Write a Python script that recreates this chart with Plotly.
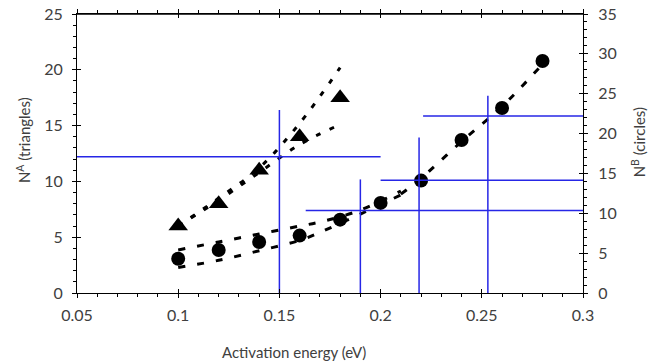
import plotly.graph_objects as go

# ---- data ----
tri_x = [0.10, 0.12, 0.14, 0.16, 0.18]
tri_y = [6.0, 8.0, 11.0, 14.0, 17.5]

circ_x = [0.10, 0.12, 0.14, 0.16, 0.18, 0.20, 0.22, 0.24, 0.26, 0.28]
circ_y = [4.3, 5.4, 6.4, 7.2, 9.2, 11.3, 14.1, 19.2, 23.2, 29.1]

tri_up_x = [0.10, 0.12, 0.14, 0.16, 0.18]
tri_up_y = [6.0, 8.5, 11.2, 15.2, 20.2]
tri_lo_x = [0.10, 0.12, 0.14, 0.16, 0.18]
tri_lo_y = [6.0, 8.3, 10.8, 13.3, 15.1]

circ_up_x = [0.10, 0.12, 0.14, 0.16, 0.17, 0.19, 0.21]
circ_up_y = [5.4, 6.4, 7.4, 8.4, 8.9, 10.4, 12.8]
circ_lo_x = [0.10, 0.12, 0.14, 0.16, 0.17, 0.19, 0.21]
circ_lo_y = [3.2, 4.1, 5.3, 6.6, 7.6, 9.9, 12.3]

circ_main_x = [0.21, 0.22, 0.24, 0.26, 0.28]
circ_main_y = [12.4, 14.4, 19.0, 23.4, 28.7]

# blue crosshairs: vertical x, vertical top, horizontal y, horizontal x0/x1, axis used
cross_vx = [0.15, 0.19, 0.219, 0.253]
cross_vtop = [16.4, 14.25, 19.5, 24.75]
cross_hy = [12.2, 10.35, 14.15, 22.2]
cross_hx0 = [0.05, 0.163, 0.20, 0.221]
cross_hx1 = [0.20, 0.30, 0.30, 0.30]
cross_axis = ["y", "y2", "y2", "y2"]

x_ticks = [0.05, 0.1, 0.15, 0.2, 0.25, 0.3]
x_ticktext = ["0.05", "0.1", "0.15", "0.2", "0.25", "0.3"]

x_title = "Activation energy (eV)"
yl_title = "N<sup>A</sup> (triangles)"
yr_title = "N<sup>B</sup> (circles)"

FONT = "Lato"
TXT = "#404040"
BLUE = "#2626e6"

fig = go.Figure()

# dashed fit lines
fig.add_trace(go.Scatter(x=tri_up_x, y=tri_up_y, mode="lines", yaxis="y",
                         line=dict(color="black", width=3, dash="5px,10px", shape="spline")))
fig.add_trace(go.Scatter(x=tri_lo_x, y=tri_lo_y, mode="lines", yaxis="y",
                         line=dict(color="black", width=3, dash="5px,10px", shape="spline")))
fig.add_trace(go.Scatter(x=circ_up_x, y=circ_up_y, mode="lines", yaxis="y2",
                         line=dict(color="black", width=3, dash="7px,12px", shape="spline")))
fig.add_trace(go.Scatter(x=circ_lo_x, y=circ_lo_y, mode="lines", yaxis="y2",
                         line=dict(color="black", width=3, dash="7px,12px", shape="spline")))
fig.add_trace(go.Scatter(x=circ_main_x, y=circ_main_y, mode="lines", yaxis="y2",
                         line=dict(color="black", width=3, dash="7px,11px", shape="spline")))

# markers
fig.add_trace(go.Scatter(x=tri_x, y=tri_y, mode="markers", yaxis="y",
                         marker=dict(symbol="triangle-up", size=17, color="black")))
fig.add_trace(go.Scatter(x=circ_x, y=circ_y, mode="markers", yaxis="y2",
                         marker=dict(symbol="circle", size=14, color="black")))

# blue crosshairs
for vx, vt, hy, hx0, hx1, ax in zip(cross_vx, cross_vtop, cross_hy, cross_hx0, cross_hx1, cross_axis):
    fig.add_trace(go.Scatter(x=[vx, vx], y=[0, vt], mode="lines", yaxis=ax,
                             line=dict(color=BLUE, width=1.5)))
    fig.add_trace(go.Scatter(x=[hx0, hx1], y=[hy, hy], mode="lines", yaxis=ax,
                             line=dict(color=BLUE, width=1.5)))

# invisible traces to activate the tick overlay axes
for xa, ya in [("x2", "y3"), ("x2", "y4"), ("x3", "y"), ("x4", "y")]:
    fig.add_trace(go.Scatter(x=[0.05], y=[0], xaxis=xa, yaxis=ya, mode="markers",
                             marker=dict(opacity=0), hoverinfo="skip"))

tickfont = dict(family=FONT, size=16, color=TXT)
titlefont = dict(family=FONT, size=15, color=TXT)
hidden = dict(showgrid=False, zeroline=False, showticklabels=False, automargin=False)
fig.update_layout(
    width=663, height=362,
    margin=dict(l=77, r=80, t=14, b=69, autoexpand=False),
    paper_bgcolor="white", plot_bgcolor="white",
    showlegend=False,
    font=dict(family=FONT, color=TXT),
    xaxis=dict(range=[0.05, 0.3], tickvals=x_ticks, ticktext=x_ticktext, automargin=False,
               showgrid=False, zeroline=False, showline=True, linecolor="black", linewidth=1,
               mirror="ticks", ticks="outside", ticklen=4, tickcolor="black", ticklabelstandoff=4,
               ticklabeloverflow="allow",
               minor=dict(dtick=0.01, ticks="outside", ticklen=3, tickcolor="black", showgrid=False),
               tickfont=tickfont),
    xaxis2=dict(range=[0.05, 0.3], overlaying="x", anchor="y3", tickvals=x_ticks,
                showline=False, ticks="inside", ticklen=4, tickcolor="black", **hidden),
    xaxis3=dict(range=[0.05, 0.3], overlaying="x", anchor="y", side="top", tickvals=x_ticks,
                showline=True, linecolor="black", linewidth=1,
                ticks="outside", ticklen=4, tickcolor="black",
                minor=dict(dtick=0.01, ticks="outside", ticklen=3, tickcolor="black", showgrid=False),
                **hidden),
    xaxis4=dict(range=[0.05, 0.3], overlaying="x", anchor="y", side="top", tickvals=x_ticks,
                showline=False, ticks="inside", ticklen=4, tickcolor="black", **hidden),
    yaxis=dict(range=[0, 25], dtick=5, showgrid=False, zeroline=False, showline=True, automargin=False,
               linecolor="black", linewidth=1, ticks="outside", ticklen=4, tickcolor="black",
               ticklabelstandoff=6, ticklabeloverflow="allow",
               minor=dict(dtick=1, ticks="outside", ticklen=3, tickcolor="black", showgrid=False),
               tickfont=tickfont),
    yaxis2=dict(range=[0, 35], dtick=5, overlaying="y", side="right", showgrid=False, zeroline=False,
                showline=True, linecolor="black", linewidth=1, ticks="outside", ticklen=4, tickcolor="black",
                automargin=False, ticklabelstandoff=7, ticklabeloverflow="allow",
                minor=dict(dtick=1, ticks="outside", ticklen=3, tickcolor="black", showgrid=False),
                tickfont=tickfont),
    yaxis3=dict(range=[0, 25], dtick=5, overlaying="y", side="left", anchor="x2",
                showline=False, ticks="inside", ticklen=4, tickcolor="black", **hidden),
    yaxis4=dict(range=[0, 35], dtick=5, overlaying="y", side="right", anchor="x2",
                showline=False, ticks="inside", ticklen=4, tickcolor="black", **hidden),
    shapes=[dict(type="line", xref="paper", yref="paper", x0=0, x1=1, y0=1, y1=1,
                 line=dict(color="black", width=1.5), layer="above")],
    annotations=[
        dict(text=x_title, xref="paper", yref="paper", x=0.429, y=-0.2115, showarrow=False,
             xanchor="center", yanchor="middle", font=titlefont),
        dict(text=yl_title, xref="paper", yref="paper", x=-0.1067, y=0.548, showarrow=False,
             textangle=-90, xanchor="center", yanchor="middle", font=titlefont),
        dict(text=yr_title, xref="paper", yref="paper", x=1.1087, y=0.54, showarrow=False,
             textangle=-90, xanchor="center", yanchor="middle", font=titlefont),
    ],
)

fig.write_html("out.html", config={"displayModeBar": False},
               post_script="document.body.style.margin='0';")
